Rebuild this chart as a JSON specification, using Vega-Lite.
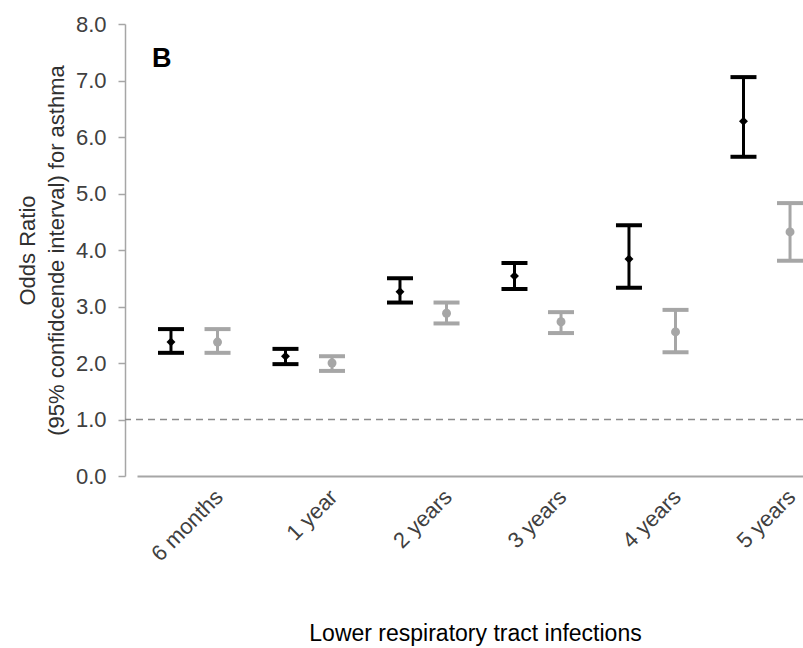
{
  "$schema": "https://vega.github.io/schema/vega-lite/v6.json",
  "autosize": {"type": "none"},
  "padding": {"left": 125, "top": 24, "right": 0, "bottom": 172},
  "width": 678,
  "height": 452,
  "background": "white",
  "config": {
    "view": {"stroke": null},
    "font": "Liberation Sans",
    "axisY": {
      "grid": false,
      "domainColor": "#a6a6a6",
      "domainWidth": 1.5,
      "tickColor": "#a6a6a6",
      "tickSize": 7,
      "tickWidth": 1.5,
      "labelFont": "Liberation Sans",
      "labelFontSize": 22,
      "labelColor": "#404040",
      "labelPadding": 12,
      "titleFont": "Liberation Sans",
      "titleFontSize": 22,
      "titleFontWeight": "normal",
      "titleColor": "#303030",
      "titleLineHeight": 29,
      "titleAngle": -90,
      "titleAlign": "center",
      "titleBaseline": "middle",
      "titleX": -98,
      "titleY": 226
    }
  },
  "layer": [
    {
      "data": {"values": [{"ref": 1}]},
      "mark": {"type": "rule", "color": "#8c8c8c", "strokeWidth": 1.5, "strokeDash": [7, 5]},
      "encoding": {
        "y": {
          "field": "ref",
          "type": "quantitative",
          "scale": {"domain": [0, 8]},
          "title": ["Odds Ratio", "(95% confidcende interval) for asthma"],
          "axis": {"format": ".1f", "values": [0, 1, 2, 3, 4, 5, 6, 7, 8]}
        }
      }
    },
    {
      "data": {"values": [{"panel": "B"}]},
      "mark": {
        "type": "text",
        "font": "Liberation Sans",
        "fontSize": 27,
        "fontWeight": "bold",
        "color": "#000000",
        "align": "left",
        "baseline": "alphabetic",
        "dx": 15
      },
      "encoding": {
        "x": {"datum": "6 months", "type": "nominal", "bandPosition": 0},
        "y": {
          "datum": 7.24,
          "type": "quantitative",
          "title": ["Odds Ratio", "(95% confidcende interval) for asthma"],
          "axis": {"format": ".1f", "values": [0, 1, 2, 3, 4, 5, 6, 7, 8]}
        },
        "text": {"field": "panel"}
      }
    },
    {
      "data": {
        "values": [
          {"age": "6 months", "series": "S1", "or": 2.37, "lo": 2.18, "hi": 2.60},
          {"age": "6 months", "series": "S2", "or": 2.37, "lo": 2.18, "hi": 2.60},
          {"age": "1 year", "series": "S1", "or": 2.12, "lo": 1.98, "hi": 2.25},
          {"age": "1 year", "series": "S2", "or": 2.00, "lo": 1.86, "hi": 2.12},
          {"age": "2 years", "series": "S1", "or": 3.26, "lo": 3.07, "hi": 3.50},
          {"age": "2 years", "series": "S2", "or": 2.88, "lo": 2.70, "hi": 3.07},
          {"age": "3 years", "series": "S1", "or": 3.54, "lo": 3.31, "hi": 3.77},
          {"age": "3 years", "series": "S2", "or": 2.73, "lo": 2.53, "hi": 2.90},
          {"age": "4 years", "series": "S1", "or": 3.84, "lo": 3.33, "hi": 4.44},
          {"age": "4 years", "series": "S2", "or": 2.55, "lo": 2.19, "hi": 2.94},
          {"age": "5 years", "series": "S1", "or": 6.28, "lo": 5.65, "hi": 7.06},
          {"age": "5 years", "series": "S2", "or": 4.32, "lo": 3.81, "hi": 4.83}
        ]
      },
      "encoding": {
        "x": {
          "field": "age",
          "type": "nominal",
          "sort": ["6 months", "1 year", "2 years", "3 years", "4 years", "5 years"],
          "scale": {"range": [12, 699], "paddingInner": 0, "paddingOuter": 0},
          "axis": {
            "title": "Lower respiratory tract infections",
            "ticks": false,
            "domainColor": "#a6a6a6",
            "domainWidth": 2,
            "labelAngle": -45,
            "labelAlign": "right",
            "labelBaseline": "top",
            "labelOffset": 18,
            "labelPadding": 10,
            "labelOverlap": false,
            "labelFlush": false,
            "labelFont": "Liberation Sans",
            "labelFontSize": 22,
            "labelColor": "#404040",
            "titleFont": "Liberation Sans",
            "titleFontSize": 23,
            "titleFontWeight": "normal",
            "titleColor": "#000000",
            "titleBaseline": "alphabetic",
            "titleAlign": "center",
            "titleX": 350,
            "titleY": 164
          }
        },
        "xOffset": {
          "field": "series",
          "type": "nominal",
          "scale": {"domain": ["S1", "S2"], "paddingInner": 0, "paddingOuter": 0.23}
        },
        "color": {
          "field": "series",
          "type": "nominal",
          "scale": {"domain": ["S1", "S2"], "range": ["#000000", "#a6a6a6"]},
          "legend": null
        }
      },
      "layer": [
        {
          "mark": {"type": "rule", "strokeWidth": 3},
          "encoding": {
            "y": {
              "field": "lo",
              "type": "quantitative",
              "title": ["Odds Ratio", "(95% confidcende interval) for asthma"],
              "axis": {"format": ".1f", "values": [0, 1, 2, 3, 4, 5, 6, 7, 8]}
            },
            "y2": {"field": "hi"}
          }
        },
        {
          "mark": {"type": "tick", "thickness": 4, "size": 26, "opacity": 1},
          "encoding": {
            "y": {
              "field": "lo",
              "type": "quantitative",
              "title": ["Odds Ratio", "(95% confidcende interval) for asthma"],
              "axis": {"format": ".1f", "values": [0, 1, 2, 3, 4, 5, 6, 7, 8]}
            }
          }
        },
        {
          "mark": {"type": "tick", "thickness": 4, "size": 26, "opacity": 1},
          "encoding": {
            "y": {
              "field": "hi",
              "type": "quantitative",
              "title": ["Odds Ratio", "(95% confidcende interval) for asthma"],
              "axis": {"format": ".1f", "values": [0, 1, 2, 3, 4, 5, 6, 7, 8]}
            }
          }
        },
        {
          "mark": {"type": "point", "filled": true, "opacity": 1, "size": 80},
          "encoding": {
            "y": {
              "field": "or",
              "type": "quantitative",
              "title": ["Odds Ratio", "(95% confidcende interval) for asthma"],
              "axis": {"format": ".1f", "values": [0, 1, 2, 3, 4, 5, 6, 7, 8]}
            },
            "shape": {
              "field": "series",
              "type": "nominal",
              "scale": {"domain": ["S1", "S2"], "range": ["diamond", "circle"]},
              "legend": null
            }
          }
        }
      ]
    }
  ]
}
